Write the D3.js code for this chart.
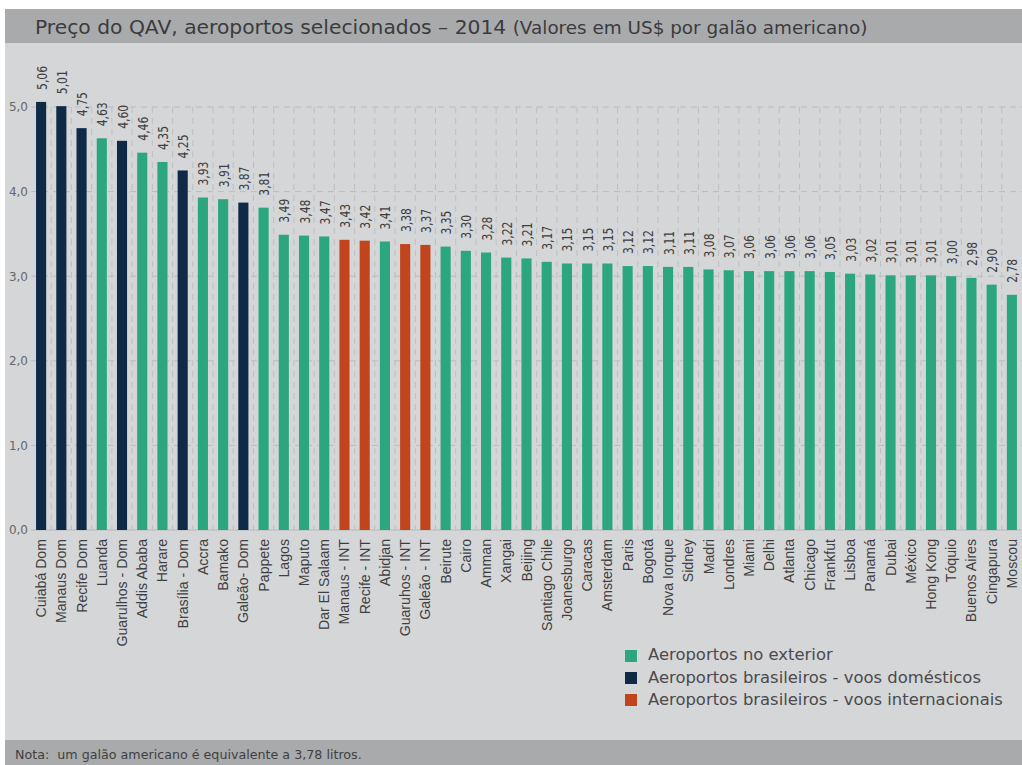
<!DOCTYPE html>
<html><head><meta charset="utf-8">
<script src="https://cdn.jsdelivr.net/npm/d3@7"></script>
<style>body{margin:0;background:#fff;} svg{display:block;font-family:"DejaVu Sans",sans-serif;}</style>
</head><body>
<svg id="c" width="1022" height="765"></svg>
<script>
const categories = ["Cuiabá Dom","Manaus Dom","Recife Dom","Luanda","Guarulhos - Dom","Addis Ababa","Harare","Brasília - Dom","Accra","Bamako","Galeão- Dom","Pappete","Lagos","Maputo","Dar El Salaam","Manaus - INT","Recife - INT","Abidjan","Guaruhos - INT","Galeão - INT","Beirute","Cairo","Amman","Xangai","Beijing","Santiago Chile","Joanesburgo","Caracas","Amsterdam","Paris","Bogotá","Nova Iorque","Sidney","Madri","Londres","Miami","Delhi","Atlanta","Chicago","Frankfut","Lisboa","Panamá","Dubai","México","Hong Kong","Tóquio","Buenos Aires","Cingapura","Moscou"];
const values = [5.06,5.01,4.75,4.63,4.60,4.46,4.35,4.25,3.93,3.91,3.87,3.81,3.49,3.48,3.47,3.43,3.42,3.41,3.38,3.37,3.35,3.30,3.28,3.22,3.21,3.17,3.15,3.15,3.15,3.12,3.12,3.11,3.11,3.08,3.07,3.06,3.06,3.06,3.06,3.05,3.03,3.02,3.01,3.01,3.01,3.00,2.98,2.90,2.78];
const groups = ["dom","dom","dom","ext","dom","ext","ext","dom","ext","ext","dom","ext","ext","ext","ext","int","int","ext","int","int","ext","ext","ext","ext","ext","ext","ext","ext","ext","ext","ext","ext","ext","ext","ext","ext","ext","ext","ext","ext","ext","ext","ext","ext","ext","ext","ext","ext","ext"];
const yTicks = [0,1,2,3,4,5];
const legendKeys = ["ext","dom","int"];
const legendLabels = ["Aeroportos no exterior","Aeroportos brasileiros - voos domésticos","Aeroportos brasileiros - voos internacionais"];
const title = "Preço do QAV, aeroportos selecionados – 2014";
const subtitle = "(Valores em US$ por galão americano)";
const note = "Nota:  um galão americano é equivalente a 3,78 litros.";

const colors = {ext:"#2ba67f", dom:"#0f2a47", int:"#c1441c"};
const svg = d3.select("#c");
const fmt = v => v.toFixed(2).replace(".", ",");
const fmt1 = v => v.toFixed(1).replace(".", ",");
// scale a text's font size so its rendered width matches a target width
function fitSize(sel, size, target){ const w = sel.node().getComputedTextLength(); return size*target/w; }

// backgrounds
svg.append("rect").attr("x",5).attr("y",9).attr("width",1017).attr("height",756).attr("fill","#d5d6d8");
svg.append("rect").attr("x",5).attr("y",9).attr("width",1017).attr("height",34).attr("fill","#a9aaac");
svg.append("rect").attr("x",5).attr("y",740).attr("width",1017).attr("height",25).attr("fill","#a9aaac");

const t = svg.append("text").attr("x",35).attr("y",34).attr("fill","#3b3b3d").attr("xml:space","preserve");
const t1 = t.append("tspan").attr("font-size",19).text(title+" ");
t1.attr("font-size", fitSize(t1,19,478));
const t2 = t.append("tspan").attr("font-size",16).text(subtitle);
t2.attr("font-size", fitSize(t2,16,355));

const nt = svg.append("text").attr("x",15).attr("y",759).attr("font-size",11.5).attr("fill","#3f3f41").attr("xml:space","preserve").text(note);
nt.attr("font-size", fitSize(nt,11.5,347));

const x = d3.scaleBand().domain(categories).range([31,1022]).paddingInner(0.5).paddingOuter(0.25);
const y = d3.scaleLinear().domain([0,5]).range([530,107]);
const gap = (x.step()-x.bandwidth())/2;

// grid
const g = svg.append("g");
g.selectAll("line.h").data(yTicks.filter(d=>d>0)).join("line")
 .attr("x1",31).attr("x2",1022).attr("y1",d=>y(d)).attr("y2",d=>y(d))
 .attr("stroke","#bbbcbe").attr("stroke-dasharray","6,5");
g.selectAll("line.v").data(categories.slice(1)).join("line")
 .attr("x1",d=>x(d)-gap).attr("x2",d=>x(d)-gap)
 .attr("y1",y(5)).attr("y2",y(0))
 .attr("stroke","#bebfc1").attr("stroke-dasharray","6,5");

// y axis
const ya = svg.append("g").attr("transform","translate(31,0)")
 .call(d3.axisLeft(y).tickValues(yTicks).tickFormat(fmt1).tickSize(0).tickPadding(3));
ya.select(".domain").remove();
ya.selectAll("text").attr("font-size",12).attr("fill","#66676a").attr("font-family","DejaVu Sans, sans-serif");

// baseline
svg.append("line").attr("x1",31).attr("x2",1022).attr("y1",y(0)).attr("y2",y(0)).attr("stroke","#b7b8ba");

// bars
svg.selectAll("rect.bar").data(values).join("rect")
 .attr("x",(d,i)=>x(categories[i])).attr("width",x.bandwidth())
 .attr("y",d=>y(d)).attr("height",d=>y(0)-y(d))
 .attr("fill",(d,i)=>colors[groups[i]]);

// value labels (tall, condensed)
const vals = svg.selectAll("text.val").data(values).join("text")
 .attr("transform",(d,i)=>`translate(${x(categories[i])+x.bandwidth()/2+5.5},${y(d)-12}) rotate(-90)`)
 .attr("font-family","'DejaVu Sans Condensed','DejaVu Sans',sans-serif")
 .attr("font-size",14.5).attr("fill","#3f3f41").text(fmt);
const k = 24 / vals.filter((d,i)=>i===2).node().getComputedTextLength();
vals.each(function(){ const L = this.getComputedTextLength(); d3.select(this).attr("textLength",L*k).attr("lengthAdjust","spacingAndGlyphs"); });

// category labels
const cats = svg.selectAll("text.cat").data(categories).join("text")
 .attr("transform",d=>`translate(${x(d)+x.bandwidth()/2+5},539) rotate(-90)`)
 .attr("font-family","'Liberation Sans',Arial,sans-serif")
 .attr("text-anchor","end").attr("font-size",13.5).attr("fill","#3f3f41").text(d=>d);
const cs = fitSize(cats.filter((d,i)=>i===25),13.5,92);
cats.attr("font-size",cs);

// legend
const lg = svg.append("g");
legendKeys.forEach((k,i)=>{
  lg.append("rect").attr("x",625).attr("y",650+i*22).attr("width",12).attr("height",12).attr("fill",colors[k]);
  const tx = lg.append("text").attr("x",648).attr("y",660+i*22.5).attr("font-size",15).attr("fill","#4a4a4c").text(legendLabels[i]);
  if(i===2) { const s = fitSize(tx,15,355); lg.selectAll("text").attr("font-size",s); }
});
</script>
</body></html>
